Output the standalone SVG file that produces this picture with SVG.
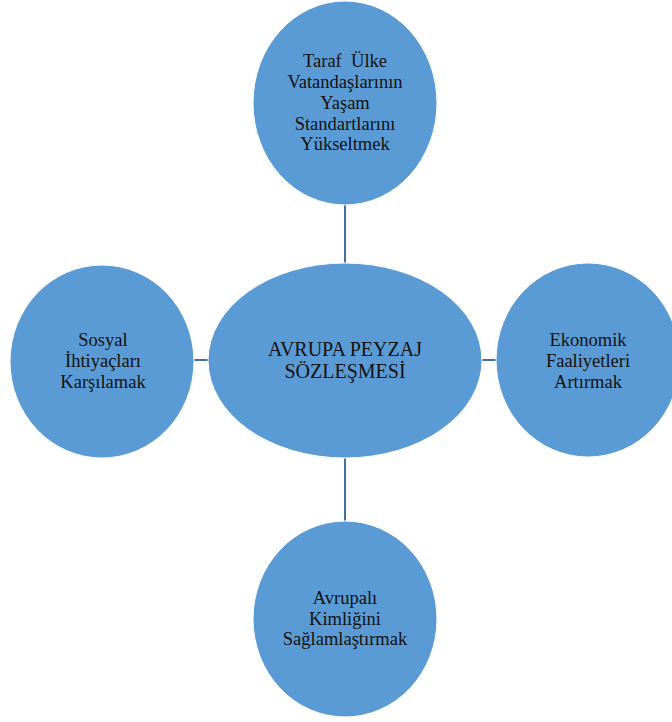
<svg xmlns="http://www.w3.org/2000/svg" width="672" height="722" viewBox="0 0 672 722">
  <style>
    .node { fill: #5B9BD5; stroke: #FFFFFF; stroke-width: 1; }
    .link { stroke: #41719C; stroke-width: 2; fill: none; }
    .label { font-family: "Liberation Serif", "Times New Roman", Tinos, serif; font-size: 18.5px; fill: #111111; text-anchor: middle; }
    .title { font-size: 20px; }
  </style>
  <rect width="672" height="722" fill="#FFFFFF"/>

  <g id="connectors">
    <line class="link" x1="345" y1="205" x2="345" y2="263"/>
    <line class="link" x1="345" y1="458" x2="345" y2="521"/>
    <line class="link" x1="194" y1="360" x2="208" y2="360"/>
    <line class="link" x1="482" y1="360" x2="496" y2="360"/>
  </g>

  <g id="node-top" font-family="Liberation Serif, serif">
    <ellipse class="node" cx="345" cy="103" rx="92" ry="102"/>
    <text class="label" x="345" y="67" xml:space="preserve">Taraf  Ülke</text>
    <text class="label" x="345" y="88">Vatandaşlarının</text>
    <text class="label" x="345" y="109">Yaşam</text>
    <text class="label" x="345" y="130">Standartlarını</text>
    <text class="label" x="345" y="150">Yükseltmek</text>
  </g>

  <g id="node-center" font-family="Liberation Serif, serif">
    <ellipse class="node" cx="345" cy="360.5" rx="137" ry="97.5"/>
    <text class="label title" x="345" y="356">AVRUPA PEYZAJ</text>
    <text class="label title" x="345" y="378">SÖZLEŞMESİ</text>
  </g>

  <g id="node-left" font-family="Liberation Serif, serif">
    <ellipse class="node" cx="102" cy="361.5" rx="92" ry="96.5"/>
    <text class="label" x="103" y="346">Sosyal</text>
    <text class="label" x="103" y="367">İhtiyaçları</text>
    <text class="label" x="103" y="388">Karşılamak</text>
  </g>

  <g id="node-right" font-family="Liberation Serif, serif">
    <ellipse class="node" cx="588" cy="360" rx="92" ry="97"/>
    <text class="label" x="588" y="346">Ekonomik</text>
    <text class="label" x="588" y="367">Faaliyetleri</text>
    <text class="label" x="588" y="388">Artırmak</text>
  </g>

  <g id="node-bottom" font-family="Liberation Serif, serif">
    <ellipse class="node" cx="345" cy="619" rx="92" ry="98"/>
    <text class="label" x="345" y="604">Avrupalı</text>
    <text class="label" x="345" y="625">Kimliğini</text>
    <text class="label" x="345" y="645">Sağlamlaştırmak</text>
  </g>
</svg>
